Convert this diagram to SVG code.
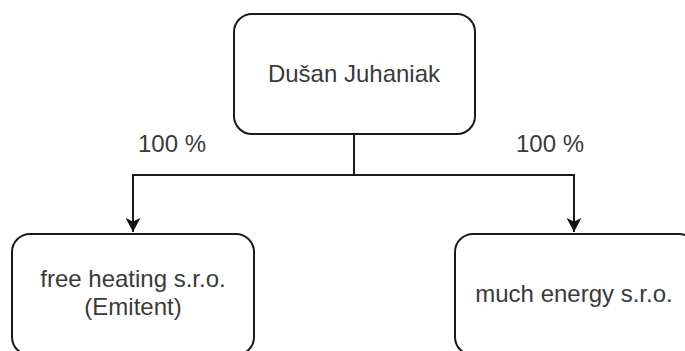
<svg xmlns="http://www.w3.org/2000/svg" width="685" height="351" viewBox="0 0 685 351">
<style>
.box{fill:#ffffff;stroke:#1a1a1a;stroke-width:2}
.lbl{font-family:"Liberation Sans",Arial,sans-serif;font-size:24px;fill:#3a3a3a;text-anchor:middle}
.edge{fill:none;stroke:#1a1a1a;stroke-width:2}
</style>
<defs>
<marker id="arr" markerWidth="8" markerHeight="8" refX="7" refY="4" orient="auto" markerUnits="strokeWidth">
<path d="M0,0.3 L7,4 L0,7.7 L1.8,4 Z" fill="#111111"/>
</marker>
</defs>
<rect width="685" height="351" fill="#ffffff"/>
<g id="connectors">
<path class="edge" d="M354,134 V175 H133 V232" marker-end="url(#arr)"/>
<path class="edge" d="M354,175 H574 V232" marker-end="url(#arr)"/>
<text class="lbl" x="172" y="152">100 %</text>
<text class="lbl" x="550" y="152">100 %</text>
</g>
<g id="node-dusan">
<rect class="box" x="234" y="14" width="241" height="120" rx="18" ry="18"/>
<text class="lbl" x="354" y="82">Dušan Juhaniak</text>
</g>
<g id="node-free-heating">
<rect class="box" x="12" y="234" width="242" height="121" rx="18" ry="18"/>
<text class="lbl" x="133" y="287">free heating s.r.o.</text>
<text class="lbl" x="133" y="315">(Emitent)</text>
</g>
<g id="node-much-energy">
<rect class="box" x="455" y="234" width="242" height="121" rx="18" ry="18"/>
<text class="lbl" x="574" y="302">much energy s.r.o.</text>
</g>
</svg>
